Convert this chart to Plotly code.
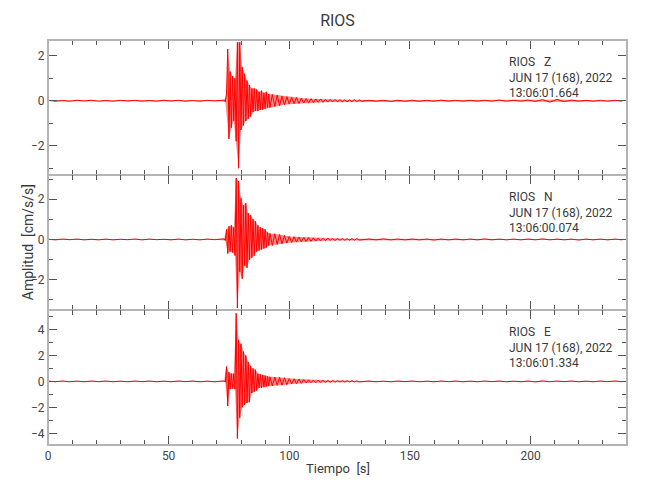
import numpy as np
import plotly.graph_objects as go
from plotly.subplots import make_subplots

station = "RIOS"
components = ["Z", "N", "E"]
date_label = "JUN 17 (168), 2022"
start_times = ["13:06:01.664", "13:06:00.074", "13:06:01.334"]
y_ranges = [[-3.3, 2.7], [-3.5, 3.2], [-4.9, 5.5]]

# sample times of the digitised peaks (s)
t_pre = np.arange(0, 73, 3)        # 25 pts
t_strong = np.arange(73, 92, 0.5)  # 38 pts
t_coda = np.arange(92, 130, 1)     # 38 pts
t_tail = np.arange(130, 240, 3)    # 37 pts

# Z component (cm/s/s)
z_pre = [0.02, -0.02, 0.01, -0.02, 0.02, -0.01, 0.02, -0.02, 0.01, -0.02, 0.02, -0.01, 0.02,
         -0.02, 0.01, -0.02, 0.02, -0.01, 0.02, -0.02, 0.01, -0.02, 0.02, -0.01, 0.02]
z_strong = [0.03, -0.04, 0.3, 2.3, -1.7, 1.3, -1.2, 1.1, -0.9, 1.0, -1.8, 2.6, -3.0, 2.6, -1.3,
            1.5, -1.1, 1.2, -0.9, 0.9, -0.8, 0.7, -0.7, 0.55, -0.5, 0.55, -0.45, 0.5, -0.45,
            0.4, -0.4, 0.45, -0.4, 0.35, -0.35, 0.4, -0.3, 0.3]
z_coda = [-0.3, 0.28, -0.25, 0.25, -0.22, 0.2, -0.18, 0.18, -0.15, 0.15, -0.13, 0.14, -0.12,
          0.11, -0.1, 0.1, -0.09, 0.09, -0.08, 0.08, -0.07, 0.08, -0.07, 0.06, -0.06, 0.06,
          -0.05, 0.06, -0.05, 0.05, -0.05, 0.04, -0.05, 0.04, -0.04, 0.05, -0.04, 0.04]
z_tail = [-0.02, 0.02, -0.02, 0.02, -0.03, 0.02, -0.02, 0.02, -0.02, 0.02, -0.02, 0.03, -0.02,
          0.02, -0.02, 0.02, -0.02, 0.02, -0.02, 0.03, -0.02, 0.02, -0.02, 0.03, -0.03, 0.05,
          -0.06, 0.06, -0.04, 0.03, -0.02, 0.02, -0.02, 0.02, -0.02, 0.02, -0.02]

# N component
n_pre = [0.01, -0.02, 0.02, -0.01, 0.02, -0.02, 0.01, -0.02, 0.02, -0.02, 0.01, -0.01, 0.02,
         -0.02, 0.02, -0.01, 0.01, -0.02, 0.02, -0.02, 0.01, -0.02, 0.02, -0.01, 0.02]
n_strong = [0.03, -0.05, 0.5, -0.7, 0.65, -0.6, 0.7, -0.65, 0.6, -0.8, 3.05, -3.4, 2.9, -1.6,
            2.05, -1.95, 1.7, -1.3, 1.8, -1.4, 1.3, -1.0, 1.2, -0.9, 1.0, -0.8, 0.9, -0.6, 0.7,
            -0.55, 0.6, -0.5, 0.55, -0.45, 0.5, -0.4, 0.35, -0.3]
n_coda = [0.3, -0.3, 0.28, -0.25, 0.25, -0.22, 0.2, -0.18, 0.15, -0.15, 0.14, -0.13, 0.12,
          -0.11, 0.1, -0.1, 0.09, -0.09, 0.08, -0.08, 0.07, -0.07, 0.06, -0.06, 0.06, -0.05,
          0.05, -0.05, 0.05, -0.04, 0.05, -0.04, 0.04, -0.04, 0.04, -0.04, 0.04, -0.03]
n_tail = [-0.02, 0.02, -0.02, 0.03, -0.02, 0.02, -0.02, 0.02, -0.02, 0.02, -0.03, 0.02, -0.02,
          0.02, -0.02, 0.02, -0.02, 0.03, -0.02, 0.02, -0.02, 0.02, -0.02, 0.02, -0.02, 0.03,
          -0.02, 0.02, -0.02, 0.02, -0.03, 0.02, -0.02, 0.02, -0.02, 0.02, -0.02]

# E component
e_pre = [0.03, -0.03, 0.03, -0.03, 0.02, -0.03, 0.03, -0.02, 0.03, -0.03, 0.02, -0.03, 0.03,
         -0.02, 0.03, -0.03, 0.02, -0.03, 0.03, -0.02, 0.03, -0.03, 0.02, -0.03, 0.03]
e_strong = [0.03, -0.05, 1.15, -1.9, 0.7, -0.6, 0.6, -0.55, 0.6, -0.6, 5.25, -4.4, 3.2, -2.8,
            2.9, -2.0, 2.3, -1.8, 2.0, -1.65, 1.5, -1.6, 1.2, -0.9, 1.0, -0.8, 0.9, -0.7, 0.6,
            -0.5, 0.55, -0.5, 0.5, -0.45, 0.45, -0.4, 0.4, -0.35]
e_coda = [0.35, -0.35, 0.33, -0.3, 0.32, -0.3, 0.28, -0.25, 0.22, -0.2, 0.2, -0.18, 0.18,
          -0.15, 0.14, -0.12, 0.12, -0.1, 0.1, -0.1, 0.09, -0.08, 0.08, -0.08, 0.07, -0.07,
          0.06, -0.06, 0.06, -0.05, 0.05, -0.05, 0.05, -0.04, 0.05, -0.04, 0.04, -0.04]
e_tail = [-0.03, 0.03, -0.03, 0.02, -0.03, 0.03, -0.02, 0.03, -0.03, 0.02, -0.03, 0.03, -0.02,
          0.03, -0.03, 0.02, -0.03, 0.03, -0.02, 0.03, -0.03, 0.02, -0.03, 0.03, -0.04, 0.04,
          -0.03, 0.03, -0.02, 0.03, -0.03, 0.02, -0.03, 0.03, -0.02, 0.03, -0.03]

t_all = np.concatenate([t_pre, t_strong, t_coda, t_tail])
series = [
    z_pre + z_strong + z_coda + z_tail,
    n_pre + n_strong + n_coda + n_tail,
    e_pre + e_strong + e_coda + e_tail,
]

FONT = "Roboto, Liberation Sans, sans-serif"
TXT = "#3a3a3a"
LINE = "#b4b4b4"
TICK = "#555555"

fig = make_subplots(rows=3, cols=1, shared_xaxes=True, vertical_spacing=0)

for i, vals in enumerate(series):
    n = min(len(vals), len(t_all))
    t = np.asarray(t_all[:n])
    v = np.asarray(vals[:n])
    # envelope band built from the positive and negative peaks
    pos = v >= 0
    band_x = np.concatenate([t[pos], t[~pos][::-1]])
    band_y = np.concatenate([v[pos], v[~pos][::-1]])
    fig.add_trace(go.Scatter(x=band_x, y=band_y, mode="lines", fill="toself",
                             fillcolor="rgba(255,0,0,0.45)", line=dict(width=0),
                             showlegend=False, hoverinfo="skip"), row=i + 1, col=1)
    fig.add_trace(go.Scatter(x=t, y=v, mode="lines",
                             line=dict(color="#ff0000", width=1), showlegend=False,
                             hoverinfo="skip"), row=i + 1, col=1)
    fig.update_yaxes(range=y_ranges[i], tick0=0, dtick=2, ticks="inside", ticklen=9,
                     tickcolor=TICK, tickwidth=1,
                     minor=dict(dtick=1, tick0=0, ticks="inside", ticklen=5, tickcolor=TICK),
                     showline=True, linecolor=LINE, linewidth=1, mirror="ticks",
                     zeroline=False, showgrid=False, automargin=False,
                     tickfont=dict(size=12, color="#444444", family=FONT),
                     row=i + 1, col=1)
    fig.update_xaxes(range=[0, 240], tick0=0, dtick=50, ticks="inside", ticklen=9,
                     tickcolor=TICK, tickwidth=1,
                     minor=dict(dtick=10, tick0=0, ticks="inside", ticklen=5, tickcolor=TICK),
                     showline=True, linecolor=LINE, linewidth=1, mirror="ticks",
                     zeroline=False, showgrid=False, automargin=False,
                     tickfont=dict(size=12, color="#444444", family=FONT),
                     row=i + 1, col=1)
    yref = "y domain" if i == 0 else f"y{i + 1} domain"
    xref = "x domain" if i == 0 else f"x{i + 1} domain"
    label = (f"{station}\u00a0\u00a0\u00a0{components[i]}<br>{date_label}<br>{start_times[i]}")
    fig.add_annotation(text=label, xref=xref, yref=yref, x=0.792, y=0.905,
                       xanchor="left", yanchor="top", align="left", showarrow=False,
                       font=dict(size=12, color=TXT, family=FONT))

# outer frame of the stacked panels
fig.add_shape(type="rect", xref="paper", yref="paper", x0=0, x1=1, y0=0, y1=1,
              line=dict(color=LINE, width=2), layer="above")

fig.add_annotation(text="Amplitud  [cm/s/s]", xref="paper", yref="paper",
                   x=-0.035, y=0.5, textangle=-90, xanchor="center", yanchor="middle",
                   showarrow=False, font=dict(size=14, color=TXT, family=FONT))
fig.add_annotation(text="Tiempo  [s]", xref="paper", yref="paper",
                   x=0.5, y=-0.057, xanchor="center", yanchor="middle",
                   showarrow=False, font=dict(size=13, color=TXT, family=FONT))

fig.update_layout(
    width=650, height=500,
    margin=dict(l=40, r=31, t=32, b=63),
    paper_bgcolor="white", plot_bgcolor="white",
    title=dict(text=station, x=0.5, xref="paper", y=0.976, yref="container",
               xanchor="center", yanchor="middle",
               font=dict(size=16, color=TXT, family=FONT)),
    font=dict(family=FONT, color=TXT),
)

fig.write_html("out.html")
